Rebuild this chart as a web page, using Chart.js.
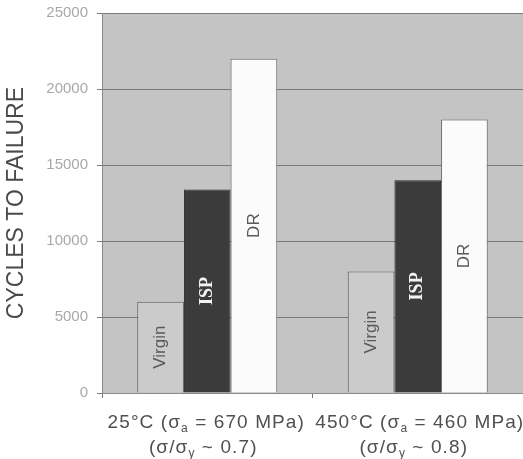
<!DOCTYPE html>
<html lang="en">
  <head>
    <meta charset="UTF-8" />
    <title>Cycles to failure</title>
    <style>
      html,
      body {
        margin: 0;
        padding: 0;
        background: #ffffff;
      }
      #wrap {
        width: 523px;
        height: 459px;
      }
    </style>
  </head>
  <body>
    <div id="wrap"><canvas id="cyclesChart" width="523" height="459"></canvas></div>

    <script src="https://cdn.jsdelivr.net/npm/chart.js"></script>
    <script>
      // data
      const temperatures = ["25°C", "450°C"];
      const stressAmplitudes = ["670", "460"];
      const stressRatios = ["0.7", "0.8"];
      const seriesNames = ["Virgin", "ISP", "DR"];
      const virginCycles = [6000, 8000];
      const ispCycles = [13400, 14000];
      const drCycles = [22000, 18000];
      const yTickValues = [0, 5000, 10000, 15000, 20000, 25000];

      const sans = "'Liberation Sans', Arial, sans-serif";
      const serif = "'Liberation Serif', 'Times New Roman', serif";

      // gray plot background
      const plotBackground = {
        id: "plotBackground",
        beforeDraw(chart) {
          const { ctx, chartArea: a } = chart;
          ctx.save();
          ctx.fillStyle = "#c4c4c4";
          ctx.fillRect(a.left, a.top, a.right - a.left, a.bottom - a.top);
          ctx.restore();
        },
      };

      // names written sideways inside the bars
      const barNames = {
        id: "barNames",
        afterDatasetsDraw(chart) {
          const ctx = chart.ctx;
          chart.data.datasets.forEach((ds, di) => {
            const meta = chart.getDatasetMeta(di);
            meta.data.forEach((bar) => {
              const cy = (bar.y + bar.base) / 2;
              ctx.save();
              ctx.translate(bar.x, cy);
              ctx.rotate(-Math.PI / 2);
              ctx.textAlign = "center";
              ctx.textBaseline = "middle";
              if (ds.label === "ISP") {
                ctx.font = "bold 18px " + serif;
                ctx.fillStyle = "#f2f2f2";
              } else {
                ctx.font = "17px " + sans;
                ctx.fillStyle = "#5a5a5a";
              }
              ctx.fillText(ds.label, 0, 0);
              ctx.restore();
            });
          });
        },
      };

      // draw a line of text made of parts, some of them subscripts
      function drawRich(ctx, parts, cx, y, size) {
        const big = size + "px " + sans;
        const small = Math.round(size * 0.62) + "px " + sans;
        ctx.letterSpacing = "1.1px";
        let w = 0;
        parts.forEach((p) => {
          ctx.font = p.sub ? small : big;
          w += ctx.measureText(p.t).width;
        });
        let x = cx - w / 2;
        parts.forEach((p) => {
          ctx.font = p.sub ? small : big;
          ctx.fillText(p.t, x, p.sub ? y + 4 : y);
          x += ctx.measureText(p.t).width;
        });
      }

      // two-line category labels with sigma subscripts
      const categoryLabels = {
        id: "categoryLabels",
        afterDraw(chart) {
          const ctx = chart.ctx;
          const xs = chart.scales.x;
          ctx.save();
          ctx.fillStyle = "#505050";
          ctx.textBaseline = "alphabetic";
          temperatures.forEach((t, i) => {
            const px = xs.getPixelForValue(i);
            drawRich(
              ctx,
              [
                { t: t + " (σ" },
                { t: "a", sub: true },
                { t: " = " + stressAmplitudes[i] + " MPa)" },
              ],
              i === 0 ? px - 1 : px + 2,
              428,
              19
            );
            drawRich(
              ctx,
              [
                { t: "(σ/σ" },
                { t: "y", sub: true },
                { t: " ~ " + stressRatios[i] + ")" },
              ],
              px - 4,
              453,
              19
            );
          });
          ctx.restore();
        },
      };

      const ctx = document.getElementById("cyclesChart").getContext("2d");

      new Chart(ctx, {
        type: "bar",
        data: {
          labels: temperatures,
          datasets: [
            {
              label: seriesNames[0],
              data: virginCycles,
              backgroundColor: "#cbcbcb",
              borderColor: "#5c5c5c",
              borderWidth: 1,
            },
            {
              label: seriesNames[1],
              data: ispCycles,
              backgroundColor: "#3b3b3b",
              borderColor: "#2a2a2a",
              borderWidth: 1,
            },
            {
              label: seriesNames[2],
              data: drCycles,
              backgroundColor: "#fbfbfb",
              borderColor: "#6a6a6a",
              borderWidth: 1,
            },
          ],
        },
        options: {
          responsive: false,
          animation: false,
          devicePixelRatio: 1,
          layout: { padding: { top: 4, left: 0, right: 0, bottom: 0 } },
          datasets: {
            bar: { categoryPercentage: 0.665, barPercentage: 1.0 },
          },
          plugins: {
            legend: { display: false },
            tooltip: { enabled: false },
          },
          scales: {
            x: {
              grid: {
                drawOnChartArea: false,
                drawTicks: true,
                tickLength: 5,
                color: "#777777",
              },
              border: { color: "#8a8a8a", width: 1 },
              ticks: { display: false },
              afterFit(scale) {
                scale.height = 66;
              },
            },
            y: {
              min: 0,
              max: 25000,
              afterBuildTicks(scale) {
                scale.ticks = yTickValues.map((v) => ({ value: v }));
              },
              grid: {
                color: "#7a7a7a",
                lineWidth: 1,
                tickLength: 5,
              },
              border: { color: "#8a8a8a", width: 1 },
              ticks: {
                padding: 9,
                color: "#a8a8a8",
                font: { family: sans, size: 15, lineHeight: 0.55 },
                callback: (v) => String(v),
              },
              title: {
                display: true,
                text: "CYCLES TO FAILURE",
                color: "#4a4a4a",
                font: { family: sans, size: 23 },
                padding: { top: 3, bottom: 0 },
              },
              afterFit(scale) {
                scale.width = 102;
              },
            },
          },
        },
        plugins: [plotBackground, barNames, categoryLabels],
      });
    </script>
  </body>
</html>
